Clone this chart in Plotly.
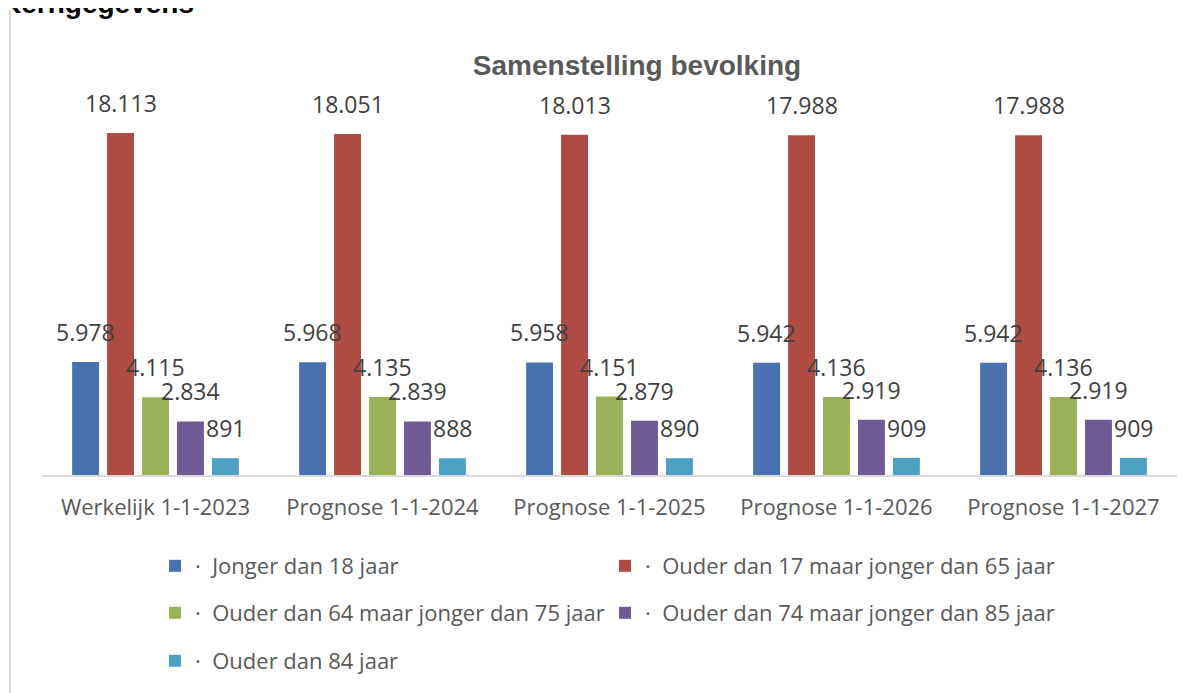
import plotly.graph_objects as go

categories = ["Werkelijk 1-1-2023", "Prognose 1-1-2024", "Prognose 1-1-2025",
              "Prognose 1-1-2026", "Prognose 1-1-2027"]
series_names = ["Jonger dan 18 jaar",
                "Ouder dan 17 maar jonger dan 65 jaar",
                "Ouder dan 64 maar jonger dan 75 jaar",
                "Ouder dan 74 maar jonger dan 85 jaar",
                "Ouder dan 84 jaar"]
jonger_18 = [5978, 5968, 5958, 5942, 5942]
tussen_17_65 = [18113, 18051, 18013, 17988, 17988]
tussen_64_75 = [4115, 4135, 4151, 4136, 4136]
tussen_74_85 = [2834, 2839, 2879, 2919, 2919]
ouder_84 = [891, 888, 890, 909, 909]
series_values = [jonger_18, tussen_17_65, tussen_64_75, tussen_74_85, ouder_84]

colors = ["#4A72B0", "#AE4B43", "#9BB157", "#6E5A95", "#4EA0C2"]
legend_ids = ["legend", "legend", "legend2", "legend2", "legend3"]

# page body has an 8px margin; work in screen pixels and convert
OFF = 8
W, H = 1203 - OFF, 693 - OFF
PLOT_L, PLOT_R, PLOT_T, PLOT_B = 42, 1177, 95, 476  # screen px
ML, MR, MT, MB = PLOT_L - OFF, (W + OFF) - PLOT_R, PLOT_T - OFF, (H + OFF) - PLOT_B
PW = PLOT_R - PLOT_L
PH = PLOT_B - PLOT_T
BARGAP = 0.23
BARGROUPGAP = 0.23
YMAX = 20120


def px_to_paper_x(px):
    return (px - PLOT_L) / PW


def px_to_paper_y(py):
    return 1 - (py - PLOT_T) / PH


def fmt(v):
    return f"{v:,}".replace(",", ".")


fig = go.Figure()
for name, vals, col, lg in zip(series_names, series_values, colors, legend_ids):
    fig.add_trace(go.Bar(
        x=categories, y=vals, name="·\u00a0\u00a0" + name,
        marker=dict(color=col, line=dict(width=0)),
        legend=lg,
    ))

n = len(series_values)
annotations = []
for j, vals in enumerate(series_values):
    for i, v in enumerate(vals):
        annotations.append(dict(
            x=i + (j - (n - 1) / 2) * (1 - BARGAP) / n, y=v,
            xref="x", yref="y", text=fmt(v), showarrow=False,
            xanchor="center", yanchor="bottom", yshift=12,
            font=dict(family="Open Sans", size=23, color="#404040"),
        ))

annotations.append(dict(
    text="<b>Kerngegevens</b>", xref="paper", yref="paper",
    x=px_to_paper_x(-1), y=px_to_paper_y(3), xanchor="left", yanchor="middle",
    showarrow=False, font=dict(family="Liberation Sans", size=28, color="#000000"),
))

legend_common = dict(orientation="h", xanchor="left", yanchor="middle",
                     font=dict(family="Open Sans", size=22, color="#595959"),
                     entrywidth=405, bgcolor="rgba(0,0,0,0)", traceorder="normal")
LEG_X = 155

fig.update_layout(
    width=W, height=H,
    margin=dict(l=ML, r=MR, t=MT, b=MB),
    paper_bgcolor="white", plot_bgcolor="white",
    barmode="group", bargap=BARGAP, bargroupgap=BARGROUPGAP,
    title=dict(text="<b>Samenstelling bevolking</b>", xref="paper", x=px_to_paper_x(637),
               xanchor="center", yref="container", y=1 - (65 - OFF) / H, yanchor="middle",
               font=dict(family="Liberation Sans", size=28, color="#595959")),
    xaxis=dict(showline=True, linecolor="#D9D9D9", linewidth=2, showgrid=False,
               ticks="", ticklabelstandoff=12,
               tickfont=dict(family="Open Sans", size=22, color="#595959")),
    yaxis=dict(range=[0, YMAX], visible=False, showgrid=False, zeroline=False),
    legend=dict(x=px_to_paper_x(LEG_X), y=px_to_paper_y(566), **legend_common),
    legend2=dict(x=px_to_paper_x(LEG_X), y=px_to_paper_y(613), **legend_common),
    legend3=dict(x=px_to_paper_x(LEG_X), y=px_to_paper_y(661), **legend_common),
    annotations=annotations,
    shapes=[dict(type="line", xref="paper", yref="paper",
                 x0=px_to_paper_x(10), x1=px_to_paper_x(10),
                 y0=px_to_paper_y(10), y1=px_to_paper_y(700),
                 line=dict(color="#D9D9D9", width=2))],
    showlegend=True,
)

fig.write_html("out.html")
